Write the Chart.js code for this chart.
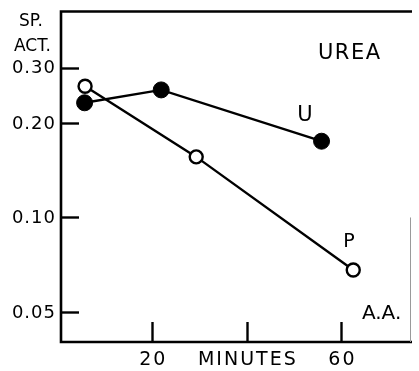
<!DOCTYPE html>
<html>
<head>
<meta charset="utf-8">
<script src="https://cdn.jsdelivr.net/npm/chart.js@4"></script>
<style>
  html, body { margin: 0; padding: 0; background: #fff; }
  canvas { display: block; }
</style>
</head>
<body>
<canvas id="chart" width="419" height="371"></canvas>
<script>
// values (minutes, specific activity)
const ureaMinutes = [5.7, 21.9, 55.8];
const ureaActivity = [0.232, 0.255, 0.175];
const aaMinutes = [5.8, 29.3, 62.5];
const aaActivity = [0.262, 0.156, 0.068];

const yTicks = [0.05, 0.1, 0.2, 0.3];
const yTickLabels = ['0.05', '0.10', '0.20', '0.30'];
const xTicks = [20, 40, 60];
const xTickLabels = ['20', 'MINUTES', '60'];

// text notes inside the plot, in data units
const notes = [
  { text: 'UREA', x: 61.6, y: 0.334, size: 21, spacing: 1.5 },
  { text: 'U', x: 52.3, y: 0.212, size: 21, spacing: 0 },
  { text: 'P', x: 61.6, y: 0.0835, size: 19, spacing: 0 },
  { text: 'A.A.', x: 68.5, y: 0.0492, size: 20, spacing: 0 },
];

const FONT = '"DejaVu Sans", sans-serif';

const toPoints = (xs, ys) => xs.map((x, i) => ({ x, y: ys[i] }));

// draws the frame, inward tick marks and all lettering
const figureFrame = {
  id: 'figureFrame',
  afterDatasetsDraw: (chart) => {
    const { ctx, chartArea: { left, top, right, bottom }, scales: { x, y } } = chart;
    ctx.save();
    ctx.strokeStyle = '#000';
    ctx.fillStyle = '#000';
    ctx.lineCap = 'butt';

    // axes
    ctx.lineWidth = 2.6;
    ctx.beginPath();
    ctx.moveTo(right + 2, top + 0.5);
    ctx.lineTo(left + 1, top + 0.5);
    ctx.lineTo(left + 1, bottom);
    ctx.lineTo(right + 2, bottom);
    ctx.stroke();

    // faint right edge
    ctx.lineWidth = 1;
    ctx.strokeStyle = '#9a9a9a';
    ctx.beginPath();
    ctx.moveTo(right + 0.5, y.getPixelForValue(0.1));
    ctx.lineTo(right + 0.5, bottom);
    ctx.stroke();
    ctx.strokeStyle = '#000';

    // tick marks pointing into the plot
    ctx.lineWidth = 2.4;
    yTicks.forEach((v) => {
      const py = Math.round(y.getPixelForValue(v)) + 0.5;
      ctx.beginPath();
      ctx.moveTo(left + 1, py);
      ctx.lineTo(left + 19, py);
      ctx.stroke();
    });
    xTicks.forEach((v) => {
      const px = Math.round(x.getPixelForValue(v)) + 0.5;
      ctx.beginPath();
      ctx.moveTo(px, bottom);
      ctx.lineTo(px, bottom - 20);
      ctx.stroke();
    });

    // y tick labels
    ctx.textBaseline = 'middle';
    ctx.textAlign = 'right';
    ctx.font = `18px ${FONT}`;
    ctx.letterSpacing = '1px';
    yTicks.forEach((v, i) => {
      ctx.fillText(yTickLabels[i], left - 4, y.getPixelForValue(v) + 1);
    });

    // x tick labels
    ctx.textAlign = 'center';
    ctx.font = `19px ${FONT}`;
    ctx.letterSpacing = '2px';
    xTicks.forEach((v, i) => {
      ctx.fillText(xTickLabels[i], x.getPixelForValue(v) + 1, bottom + 18);
    });

    // y axis title
    ctx.textAlign = 'left';
    ctx.font = `17px ${FONT}`;
    ctx.letterSpacing = '0px';
    ctx.fillText('SP.', left - 41, top + 11);
    ctx.fillText('ACT.', left - 46, top + 36);

    // notes
    ctx.textAlign = 'center';
    notes.forEach((n) => {
      ctx.font = `${n.size}px ${FONT}`;
      ctx.letterSpacing = `${n.spacing}px`;
      ctx.fillText(n.text, x.getPixelForValue(n.x) + n.spacing / 2, y.getPixelForValue(n.y));
    });
    ctx.restore();
  }
};

new Chart(document.getElementById('chart').getContext('2d'), {
  type: 'scatter',
  data: {
    datasets: [
      {
        label: 'U',
        data: toPoints(ureaMinutes, ureaActivity),
        showLine: true,
        borderColor: '#000',
        borderWidth: 2.4,
        pointRadius: 8,
        pointBackgroundColor: '#000',
        pointBorderColor: '#000',
        pointBorderWidth: 1,
      },
      {
        label: 'P',
        data: toPoints(aaMinutes, aaActivity),
        showLine: true,
        borderColor: '#000',
        borderWidth: 2.4,
        pointRadius: 6.5,
        pointBackgroundColor: '#fff',
        pointBorderColor: '#000',
        pointBorderWidth: 2.4,
      },
    ],
  },
  options: {
    responsive: false,
    animation: false,
    layout: { padding: { left: 60, top: 11, right: 2, bottom: 29 } },
    plugins: { legend: { display: false }, tooltip: { enabled: false } },
    scales: {
      x: { type: 'linear', min: 0.5, max: 74.5, display: false },
      y: { type: 'logarithmic', min: 0.0401, max: 0.455, display: false },
    },
  },
  plugins: [figureFrame],
});
</script>
</body>
</html>
